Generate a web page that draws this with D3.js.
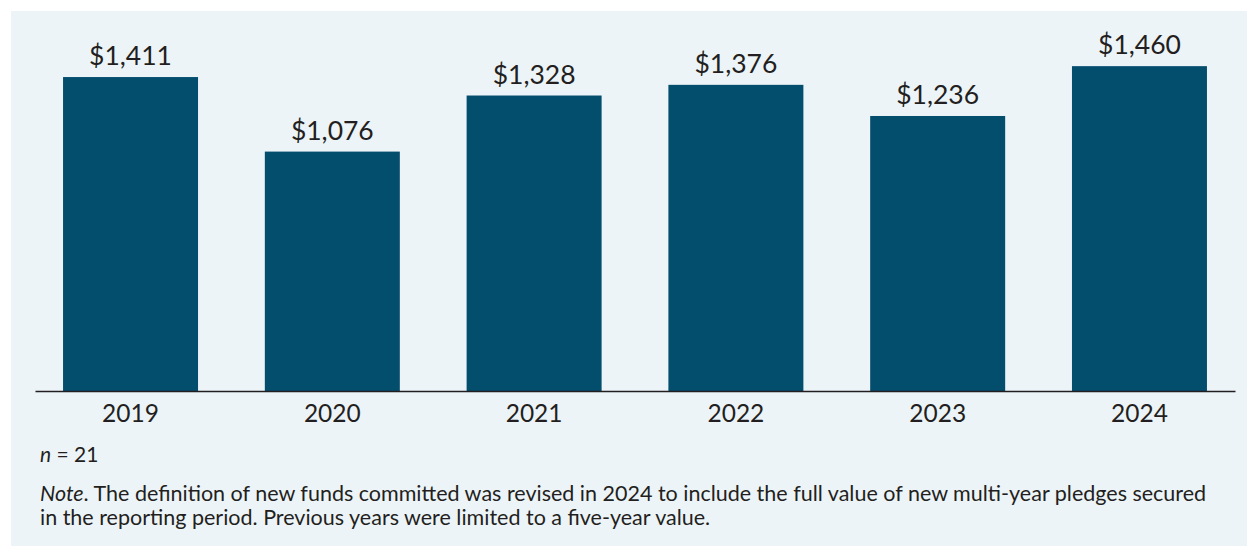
<meta charset="utf-8">
<style>
  body { margin: 0; background: #fff; }
  text { font-family: Lato, "Open Sans", sans-serif; fill: #231f20; }
</style>
<svg width="1248" height="546"></svg>
<script src="https://cdn.jsdelivr.net/npm/d3@7"></script>
<script>
  var years = ["2019", "2020", "2021", "2022", "2023", "2024"];
  var funds = [1411, 1076, 1328, 1376, 1236, 1460];
  var noteLines = [
    "The definition of new funds committed was revised in 2024 to include the full value of new multi-year pledges secured",
    "in the reporting period. Previous years were limited to a five-year value."
  ];

  var data = years.map(function(y, i) { return { year: y, value: funds[i] }; });

  var svg = d3.select("svg");

  // panel background
  svg.append("rect")
    .attr("x", 11).attr("y", 11)
    .attr("width", 1236).attr("height", 535)
    .attr("fill", "#edf4f8");

  var x = d3.scaleBand()
    .domain(years)
    .range([35, 1235])
    .paddingInner(0.331)
    .paddingOuter(0.139);

  var y = d3.scaleLinear()
    .domain([0, 1600])
    .range([391, 35]);

  svg.append("g")
    .selectAll("rect")
    .data(data)
    .enter().append("rect")
      .attr("x", function(d) { return x(d.year); })
      .attr("y", function(d) { return y(d.value); })
      .attr("width", x.bandwidth())
      .attr("height", function(d) { return y(0) - y(d.value); })
      .attr("fill", "#034d6d");

  svg.append("g")
    .selectAll("text")
    .data(data)
    .enter().append("text")
      .attr("x", function(d) { return x(d.year) + x.bandwidth() / 2; })
      .attr("y", function(d) { return y(d.value) - 12; })
      .attr("text-anchor", "middle")
      .attr("font-size", "26.5px")
      .text(function(d) { return "$" + d3.format(",")(d.value); });

  var xAxis = svg.append("g")
    .attr("transform", "translate(0," + y(0) + ")")
    .call(d3.axisBottom(x).tickSize(0).tickPadding(14));
  xAxis.select(".domain").attr("stroke", "#231f20").attr("stroke-width", 1.5);
  xAxis.selectAll("text")
    .attr("font-family", "Lato, sans-serif")
    .attr("font-size", "24.5px")
    .attr("fill", "#231f20")
    .attr("dy", "0.71em");

  var n = svg.append("text")
    .attr("x", 40).attr("y", 462)
    .attr("font-size", "21px");
  n.append("tspan").attr("font-style", "italic").text("n");
  n.append("tspan").text(" = 21");

  var note = svg.append("text")
    .attr("x", 40).attr("y", 501)
    .attr("font-size", "21.5px");
  note.append("tspan").attr("font-style", "italic").text("Note");
  note.append("tspan").text(". " + noteLines[0]);
  svg.append("text")
    .attr("x", 40).attr("y", 525)
    .attr("font-size", "21.5px")
    .text(noteLines[1]);
</script>
